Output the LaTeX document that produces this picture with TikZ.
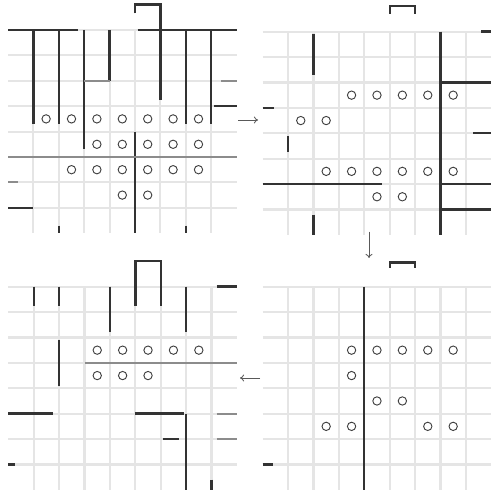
\documentclass[tikz,border=0pt]{standalone}
\usepackage{tikz}
\usetikzlibrary{arrows.meta}

\tikzset{
  gridline/.style={line width=1.8pt, gray!20},
  wall/.style={line width=2pt, black!80},
  softwall/.style={line width=1.7pt, black!45},
  token/.style={circle, draw=black!75, line width=0.8pt, minimum size=0.25cm, inner sep=0pt},
  flow/.style={-{To[length=3.5pt,width=6pt]}, line width=0.7pt, black!65},
  cell/.style={x=0.762cm, y=-0.762cm},
}
\newcommand{\mazegrid}{%
  \foreach \j in {0,...,7} \draw[gridline] (0,\j) -- (9,\j);
  \foreach \i in {1,...,8} \draw[gridline] (\i,0) -- (\i,8);
}

\begin{document}
\begin{tikzpicture}
  \useasboundingbox (0,0) rectangle (14.79,-14.79);

  % first maze (top left)
  \begin{scope}[shift={(0.24,-0.9)}, cell]
    \mazegrid
    \draw[wall] (0,0) -- (2.75,0);
    \draw[wall] (5.1,0) -- (9,0);
    \draw[wall] (5,-0.65) -- (5,-1) -- (6,-1) -- (6,2.75);
    \draw[wall] (1,0) -- (1,3.7);
    \draw[wall] (2,0) -- (2,3.7);
    \draw[wall] (3,0) -- (3,4.7);
    \draw[wall] (4,0) -- (4,2);
    \draw[softwall] (3,2) -- (4,2);
    \draw[wall] (7,0) -- (7,3.7);
    \draw[wall] (8,0) -- (8,3.7);
    \draw[wall] (8.1,3) -- (9,3);
    \draw[softwall] (8.4,2) -- (9,2);
    \draw[wall] (5,4) -- (5,8);
    \draw[softwall] (0,5) -- (9,5);
    \draw[softwall] (0,6) -- (0.4,6);
    \draw[wall] (0,7) -- (1,7);
    \draw[wall] (2,7.7) -- (2,8);
    \draw[wall] (7,7.7) -- (7,8);
    \foreach \i in {1,...,7} \node[token] (tl-a\i) at (\i+0.5,3.5) {};
    \foreach \i in {3,...,7} \node[token] (tl-b\i) at (\i+0.5,4.5) {};
    \foreach \i in {2,...,7} \node[token] (tl-c\i) at (\i+0.5,5.5) {};
    \foreach \i in {4,5} \node[token] (tl-d\i) at (\i+0.5,6.5) {};
  \end{scope}

  % second maze (top right)
  \begin{scope}[shift={(7.88,-0.95)}, cell]
    \mazegrid
    \draw[wall] (5,-0.7) -- (5,-1) -- (6,-1) -- (6,-0.7);
    \draw[wall] (2,0.1) -- (2,1.7);
    \draw[wall] (7,0) -- (7,8);
    \draw[wall] (7,2) -- (9,2);
    \draw[wall] (0,3) -- (0.45,3);
    \draw[wall] (1,4.1) -- (1,4.75);
    \draw[wall] (8.3,4) -- (9,4);
    \draw[wall] (0,6) -- (4.7,6);
    \draw[wall] (7,6) -- (9,6);
    \draw[wall] (7,7) -- (9,7);
    \draw[wall] (2,7.2) -- (2,8);
    \draw[wall] (8.6,0) -- (9,0);
    \foreach \i in {3,...,7} \node[token] (tr-a\i) at (\i+0.5,2.5) {};
    \foreach \i in {1,2} \node[token] (tr-b\i) at (\i+0.5,3.5) {};
    \foreach \i in {2,...,7} \node[token] (tr-c\i) at (\i+0.5,5.5) {};
    \foreach \i in {4,5} \node[token] (tr-d\i) at (\i+0.5,6.5) {};
  \end{scope}

  % third maze (bottom left)
  \begin{scope}[shift={(0.25,-8.6)}, cell]
    \mazegrid
    \draw[wall] (5,0.75) -- (5,-1) -- (6,-1) -- (6,0.75);
    \draw[wall] (1,0) -- (1,0.75);
    \draw[wall] (2,0) -- (2,0.75);
    \draw[wall] (2,2.1) -- (2,3.9);
    \draw[wall] (4,0) -- (4,1.8);
    \draw[wall] (7,0) -- (7,1.8);
    \draw[wall] (8.2,0) -- (9,0);
    \draw[softwall] (3,3) -- (9,3);
    \draw[wall] (0,5) -- (1.75,5);
    \draw[wall] (5,5) -- (6.9,5);
    \draw[softwall] (8.2,5) -- (9,5);
    \draw[wall] (6.1,6) -- (6.7,6);
    \draw[softwall] (8.2,6) -- (9,6);
    \draw[wall] (7,5) -- (7,8);
    \draw[wall] (0,7) -- (0.25,7);
    \draw[wall] (8,7.6) -- (8,8);
    \foreach \i in {3,...,7} \node[token] (bl-a\i) at (\i+0.5,2.5) {};
    \foreach \i in {3,4,5} \node[token] (bl-b\i) at (\i+0.5,3.5) {};
  \end{scope}

  % fourth maze (bottom right)
  \begin{scope}[shift={(7.88,-8.6)}, cell]
    \mazegrid
    \draw[wall] (5,-0.75) -- (5,-0.95) -- (6,-0.95) -- (6,-0.75);
    \draw[wall] (4,0) -- (4,8);
    \draw[wall] (0,7) -- (0.4,7);
    \foreach \i in {3,...,7} \node[token] (br-a\i) at (\i+0.5,2.5) {};
    \node[token] (br-b3) at (3.5,3.5) {};
    \foreach \i in {4,5} \node[token] (br-c\i) at (\i+0.5,4.5) {};
    \foreach \i in {2,3,6,7} \node[token] (br-d\i) at (\i+0.5,5.5) {};
  \end{scope}

  % arrows between the mazes
  \coordinate (tl-out) at (7.14,-3.6);
  \coordinate (tr-in) at (7.74,-3.6);
  \coordinate (tr-out) at (11.07,-6.95);
  \coordinate (br-in) at (11.07,-7.74);
  \coordinate (br-out) at (7.8,-11.34);
  \coordinate (bl-in) at (7.2,-11.34);
  \draw[flow] (tl-out) -- (tr-in);
  \draw[flow] (tr-out) -- (br-in);
  \draw[flow] (br-out) -- (bl-in);
\end{tikzpicture}
\end{document}
